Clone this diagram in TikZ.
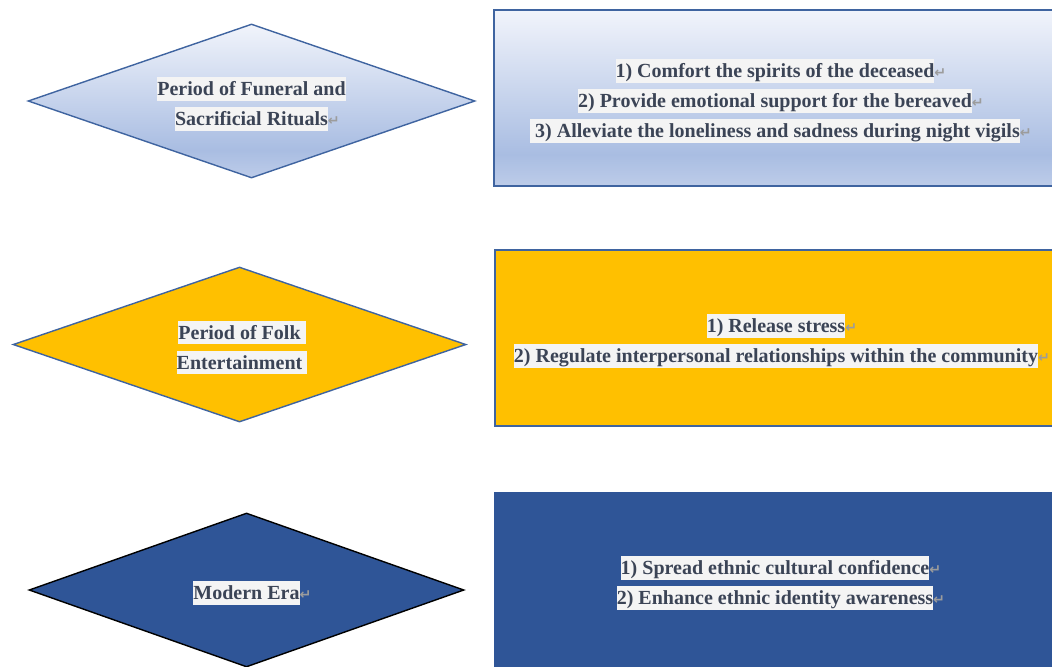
\documentclass[tikz,border=0pt]{standalone}
\usepackage{fontspec}
\setmainfont{Liberation Serif}
\newfontfamily\markfont{DejaVu Sans}
\usetikzlibrary{shapes.geometric}

\definecolor{paleblue}{HTML}{F1F4FB}
\definecolor{midblue}{HTML}{A9BDE2}
\definecolor{lowblue}{HTML}{BDCCE9}
\definecolor{edgeblue}{HTML}{3F64A0}
\definecolor{folkgold}{HTML}{FFC000}
\definecolor{eranavy}{HTML}{2F5597}
\definecolor{inkgray}{HTML}{3B4456}
\definecolor{hlgray}{HTML}{F4F4F4}
\definecolor{markgray}{HTML}{9C9C9C}

\pgfdeclareverticalshading{ritualfade}{100bp}{color(0bp)=(lowblue); color(25bp)=(lowblue); color(34bp)=(midblue); color(75bp)=(paleblue); color(100bp)=(paleblue)}

\newcommand{\hl}[1]{{\setlength{\fboxsep}{0pt}\colorbox{hlgray}{\rule[-0.24em]{0pt}{1.16em}#1}}}
\newcommand{\pmark}{\rlap{\markfont\color{markgray}\fontsize{10pt}{10pt}\selectfont ↵}}
\newcommand{\lift}{\rule{0pt}{1.22em}}

\begin{document}
\begin{tikzpicture}[
  stage/.style={diamond,aspect=2.9,line width=1pt,inner sep=0pt,align=center,text=inkgray,
    font={\fontsize{14.23pt}{21.35pt}\selectfont\bfseries}},
  rolebox/.style={rectangle,line width=1pt,inner sep=0pt,align=center,text=inkgray,
    minimum width=14.050cm,minimum height=4.400cm,
    font={\fontsize{14.23pt}{21.35pt}\selectfont\bfseries}}]
\useasboundingbox (0.000,0.000) rectangle (26.300,-16.650);
% funeral and sacrificial rituals
\node[stage,draw=edgeblue,shade,shading=ritualfade,minimum width=11.175cm,minimum height=3.850cm] (funeral) at (6.288,-2.525)
  {\lift\hl{Period of Funeral and}\\\hl{Sacrificial Rituals}\pmark};
\node[rolebox,draw=edgeblue,shade,shading=ritualfade] (funeralroles) at (19.375,-2.450)
  {\lift\hl{1) Comfort the spirits of the deceased}\pmark\\
   \hl{2) Provide emotional support for the bereaved}\pmark\\
   \hl{\ 3) Alleviate the loneliness and sadness during night vigils}\pmark};
% folk entertainment
\node[stage,draw=edgeblue,fill=folkgold,minimum width=11.325cm,minimum height=3.875cm] (folk) at (5.988,-8.613)
  {\lift\hl{Period of Folk}\rlap{\hl{\ }}\\\hl{Entertainment}\rlap{\hl{\ }}};
\node[rolebox,draw=edgeblue,fill=folkgold] (folkroles) at (19.400,-8.450)
  {\lift\hl{1) Release stress}\pmark\\
   \hl{2) Regulate interpersonal relationships within the community}\pmark};
% modern era
\node[stage,draw=black,fill=eranavy,minimum width=10.875cm,minimum height=3.850cm] (modern) at (6.163,-14.750)
  {\lift\hl{Modern Era}\pmark};
\node[rolebox,fill=eranavy] (modernroles) at (19.375,-14.500)
  {\lift\hl{1) Spread ethnic cultural confidence}\pmark\\
   \hl{2) Enhance ethnic identity awareness}\pmark};
\end{tikzpicture}
\end{document}
